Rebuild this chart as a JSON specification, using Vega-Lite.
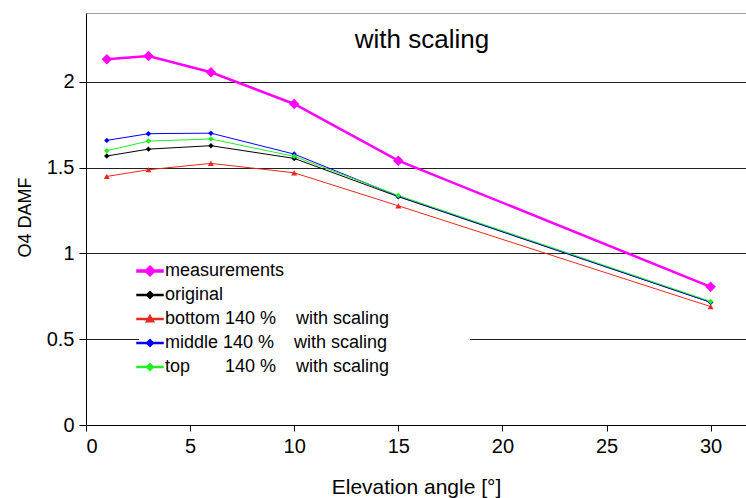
{
  "$schema": "https://vega.github.io/schema/vega-lite/v6.json",
  "width": 660,
  "height": 412,
  "autosize": "none",
  "padding": {"left": 86, "top": 13, "right": 0, "bottom": 73},
  "background": "white",
  "config": {
    "view": {"stroke": null},
    "font": "Liberation Sans",
    "legend": {"symbolSize": 100, "labelFontSize": 18, "labelColor": "black", "rowPadding": 6, "padding": 2, "labelOffset": 6, "fillColor": "white", "labelLimit": 600, "symbolOpacity": 1}
  },
  "title": {"text": "with scaling", "fontSize": 26, "fontWeight": "normal", "font": "Liberation Sans", "color": "black", "offset": -40, "anchor": "middle", "dx": 6},
  "data": {
    "values": [
      {"x": 1, "series": "measurements", "y": 2.13},
      {"x": 3, "series": "measurements", "y": 2.15},
      {"x": 6, "series": "measurements", "y": 2.055},
      {"x": 10, "series": "measurements", "y": 1.87},
      {"x": 15, "series": "measurements", "y": 1.54},
      {"x": 30, "series": "measurements", "y": 0.805},
      {"x": 1, "series": "original", "y": 1.567},
      {"x": 3, "series": "original", "y": 1.607},
      {"x": 6, "series": "original", "y": 1.627},
      {"x": 10, "series": "original", "y": 1.553},
      {"x": 15, "series": "original", "y": 1.33},
      {"x": 30, "series": "original", "y": 0.715},
      {"x": 1, "series": "bottom", "y": 1.448},
      {"x": 3, "series": "bottom", "y": 1.487},
      {"x": 6, "series": "bottom", "y": 1.524},
      {"x": 10, "series": "bottom", "y": 1.469},
      {"x": 15, "series": "bottom", "y": 1.277},
      {"x": 30, "series": "bottom", "y": 0.69},
      {"x": 1, "series": "middle", "y": 1.658},
      {"x": 3, "series": "middle", "y": 1.697},
      {"x": 6, "series": "middle", "y": 1.70},
      {"x": 10, "series": "middle", "y": 1.578},
      {"x": 15, "series": "middle", "y": 1.333},
      {"x": 30, "series": "middle", "y": 0.715},
      {"x": 1, "series": "top", "y": 1.598},
      {"x": 3, "series": "top", "y": 1.654},
      {"x": 6, "series": "top", "y": 1.666},
      {"x": 10, "series": "top", "y": 1.565},
      {"x": 15, "series": "top", "y": 1.337},
      {"x": 30, "series": "top", "y": 0.72}
    ]
  },
  "encoding": {
    "x": {
      "field": "x", "type": "quantitative",
      "scale": {"domain": [0, 31.7], "nice": false, "zero": false},
      "axis": {"title": "Elevation angle [°]", "values": [0, 5, 10, 15, 20, 25, 30], "grid": false, "domainColor": "black", "tickColor": "black", "tickSize": 6, "labelFontSize": 20, "labelColor": "black", "labelPadding": 5, "titleFontSize": 21, "titleFontWeight": "normal", "titleColor": "black", "titlePadding": 20}
    },
    "y": {
      "field": "y", "type": "quantitative",
      "scale": {"domain": [0, 2.4], "nice": false},
      "axis": {"title": "O4 DAMF", "values": [0, 0.5, 1, 1.5, 2, 2.4], "labelExpr": "datum.value > 2.3 ? '' : format(datum.value, '~g')", "grid": true, "gridColor": {"condition": {"test": "datum.value > 2.3", "value": "#a0a0a0"}, "value": "#222222"}, "tickColor": {"condition": {"test": "datum.value > 2.3", "value": "transparent"}, "value": "black"}, "domainColor": "black", "tickSize": 7, "labelFontSize": 20, "labelColor": "black", "labelPadding": 5, "titleFontSize": 18, "titleFontWeight": "normal", "titleColor": "black", "titleX": -61, "titleY": 204, "titleAlign": "center", "titleBaseline": "middle"}
    }
  },
  "layer": [
    {
      "transform": [{"filter": "false"}],
      "mark": {"type": "point", "filled": true, "opacity": 1, "size": 100},
      "encoding": {
        "color": {"field": "series", "type": "nominal", "scale": {"domain": ["measurements", "original", "bottom", "middle", "top"], "range": ["#FF00FF", "#000000", "#E8281E", "#0000FF", "#22EE22"]}, "legend": {"title": null, "orient": "none", "legendX": 53, "legendY": 247, "symbolOpacity": 1, "labelExpr": "datum.label == 'bottom' ? 'bottom 140 %\u00a0\u00a0\u00a0\u00a0with scaling\u2800\u2800\u2800\u2800\u2800\u2800' : datum.label == 'middle' ? 'middle 140 %\u00a0\u00a0\u00a0\u00a0with scaling' : datum.label == 'top' ? 'top\u00a0\u00a0\u00a0\u00a0\u00a0\u00a0\u00a0140 %\u00a0\u00a0\u00a0\u00a0with scaling' : datum.label"}},
        "shape": {"field": "series", "type": "nominal", "scale": {"domain": ["measurements", "original", "bottom", "middle", "top"], "range": [
          "M-2.6,-0.22L2.6,-0.22L2.6,0.22L-2.6,0.22Z M-1,0L0,-1L1,0L0,1Z",
          "M-2.6,-0.11L2.6,-0.11L2.6,0.11L-2.6,0.11Z M-0.7,0L0,-0.7L0.7,0L0,0.7Z",
          "M-2.6,-0.11L2.6,-0.11L2.6,0.11L-2.6,0.11Z M0,-0.75L0.75,0.55L-0.75,0.55Z",
          "M-2.6,-0.11L2.6,-0.11L2.6,0.11L-2.6,0.11Z M-0.7,0L0,-0.7L0.7,0L0,0.7Z",
          "M-2.6,-0.11L2.6,-0.11L2.6,0.11L-2.6,0.11Z M-0.7,0L0,-0.7L0.7,0L0,0.7Z"
        ]}, "legend": {"title": null, "orient": "none", "legendX": 53, "legendY": 247, "symbolOpacity": 1}}
      }
    },
    {
      "mark": {"type": "line"},
      "encoding": {
        "color": {"field": "series", "type": "nominal"},
        "strokeWidth": {"condition": {"test": "datum.series == 'measurements'", "value": 2.5}, "value": 1}
      }
    },
    {
      "transform": [{"filter": "datum.series != 'bottom'"}],
      "mark": {"type": "point", "shape": "diamond", "filled": true, "opacity": 1},
      "encoding": {
        "color": {"field": "series", "type": "nominal"},
        "size": {"condition": {"test": "datum.series == 'measurements'", "value": 110}, "value": 30}
      }
    },
    {
      "transform": [{"filter": "datum.series == 'bottom'"}],
      "mark": {"type": "point", "shape": "triangle-up", "filled": true, "opacity": 1, "size": 36},
      "encoding": {
        "color": {"field": "series", "type": "nominal"}
      }
    }
  ]
}
